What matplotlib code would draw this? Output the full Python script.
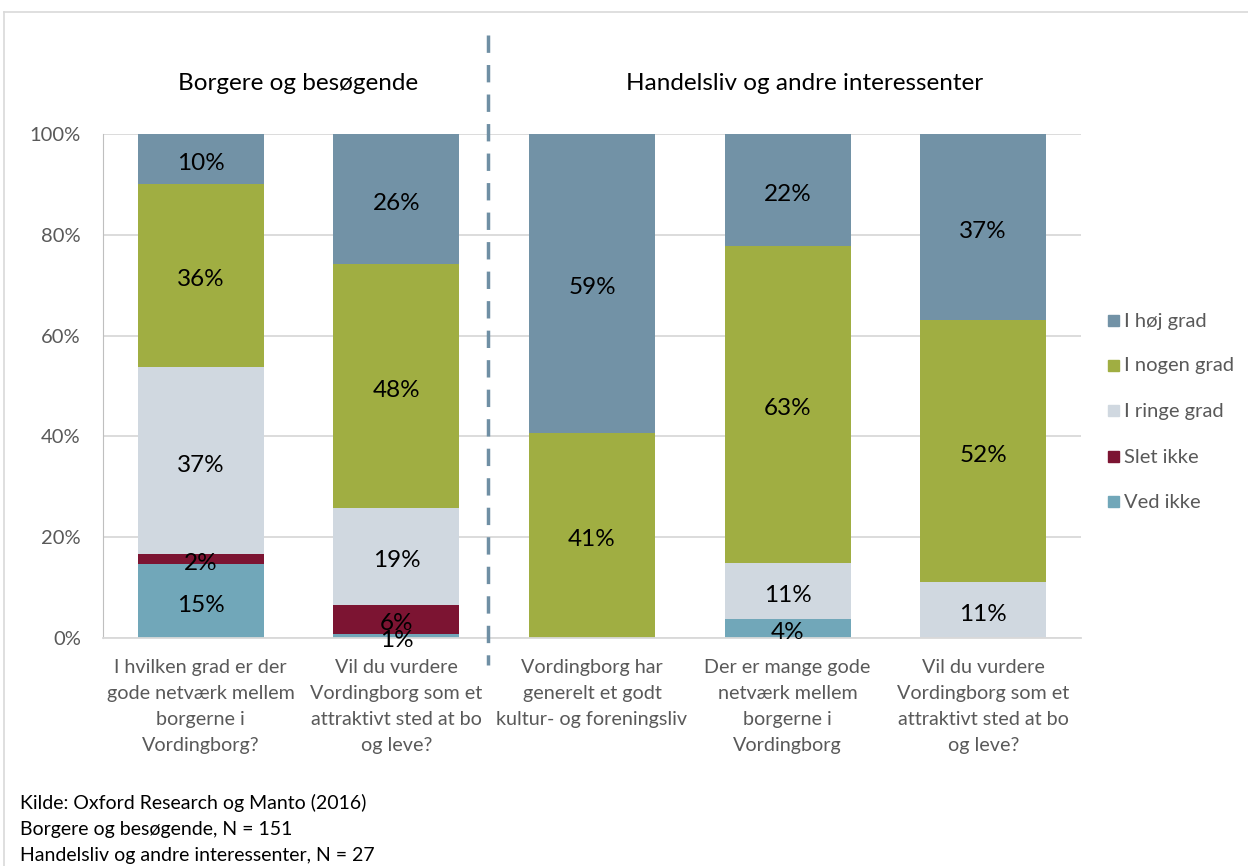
import matplotlib
matplotlib.use("Agg")
import matplotlib.pyplot as plt
from matplotlib.lines import Line2D
from matplotlib.patches import Rectangle
from matplotlib.transforms import offset_copy

plt.rcParams['font.family'] = ['Lato', 'DejaVu Sans']

categories = [
    "I hvilken grad er der\ngode netværk mellem\nborgerne i\nVordingborg?",
    "Vil du vurdere\nVordingborg som et\nattraktivt sted at bo\nog leve?",
    "Vordingborg har\ngenerelt et godt\nkultur- og foreningsliv",
    "Der er mange gode\nnetværk mellem\nborgerne i\nVordingborg",
    "Vil du vurdere\nVordingborg som et\nattraktivt sted at bo\nog leve?",
]
series_names = ["Ved ikke", "Slet ikke", "I ringe grad", "I nogen grad", "I høj grad"]
ved_ikke = [14.6, 0.7, 0.0, 3.7, 0.0]
slet_ikke = [2.0, 5.9, 0.0, 0.0, 0.0]
ringe_grad = [37.1, 19.2, 0.0, 11.1, 11.1]
nogen_grad = [36.4, 48.4, 40.7, 63.0, 51.9]
hoej_grad = [9.9, 25.8, 59.3, 22.2, 37.0]
group_titles = ["Borgere og besøgende", "Handelsliv og andre interessenter"]
footnotes = ["Kilde: Oxford Research og Manto (2016)",
             "Borgere og besøgende, N = 151",
             "Handelsliv og andre interessenter, N = 27"]
yticks = [0, 20, 40, 60, 80, 100]

series = [ved_ikke, slet_ikke, ringe_grad, nogen_grad, hoej_grad]
colors = ["#71A7B9", "#7C1432", "#D0D8E0", "#A0AE42", "#7292A6"]

W, H = 1248, 866
fig = plt.figure(figsize=(W / 100, H / 100), dpi=100)
ax = fig.add_axes([103 / W, 1 - 638 / H, (1081 - 103) / W, (638 - 134) / H])
label_tf = offset_copy(ax.transData, fig=fig, x=0, y=-3, units="points")

x = list(range(len(categories)))
bottom = [0.0] * len(categories)
for vals, col, name in zip(series, colors, series_names):
    ax.bar(x, vals, bottom=bottom, width=0.645, color=col, label=name, zorder=2)
    for i, v in enumerate(vals):
        if v > 0:
            ax.text(i, bottom[i] + v / 2, f"{int(round(v))}%", ha="center", va="center",
                    fontsize=17.5, color="black", zorder=3, transform=label_tf)
    bottom = [b + v for b, v in zip(bottom, vals)]

ax.set_xlim(-0.5, 4.5)
ax.set_ylim(0, 100)
ax.set_yticks(yticks)
ax.set_yticklabels([f"{t}%" for t in yticks], fontsize=14.5, color="#595959")
ax.tick_params(axis="y", length=0, pad=16)
ax.tick_params(axis="x", length=0, pad=15)
ax.set_xticks(x)
ax.set_xticklabels(categories, fontsize=14.2, color="#595959", linespacing=1.65)
ax.yaxis.grid(True, color="#D9D9D9", linewidth=1.3, zorder=0)
ax.set_axisbelow(True)
for s in ["top", "right"]:
    ax.spines[s].set_visible(False)
ax.spines["left"].set_color("#BFBFBF")
ax.spines["bottom"].set_color("#D9D9D9")
ax.spines["bottom"].set_linewidth(1.3)

# separator dashed line
xs = 1.47
ax.add_line(Line2D([xs, xs], [(638 - 35) / 504 * 100, (638 - 665) / 504 * 100],
                   color="#6F8FA4", linewidth=2.5, linestyle=(0, (5, 3.5)),
                   clip_on=False, zorder=4))

# group titles
fig.text(298 / W, 1 - 83 / H, group_titles[0], ha="center", va="center", fontsize=17.5, color="black")
fig.text(805 / W, 1 - 83 / H, group_titles[1], ha="center", va="center", fontsize=17.5, color="black")

# legend (top to bottom)
leg_y = [320, 365, 410, 456, 501]
for yy, name, col in zip(leg_y, series_names[::-1], colors[::-1]):
    fig.patches.append(Rectangle((1108 / W, 1 - (yy + 6) / H), 11 / W, 11 / H,
                                 transform=fig.transFigure, color=col))
    fig.text(1124 / W, 1 - (yy + 1) / H, name, ha="left", va="center", fontsize=14.5, color="#595959")

# footnotes
for i, t in enumerate(footnotes):
    fig.text(20 / W, 1 - (803 + 26.5 * i) / H, t, ha="left", va="center", fontsize=14, color="black")

# outer frame
fig.add_artist(Line2D([4 / W, 4 / W], [0, 1 - 12 / H], transform=fig.transFigure, color="#D9D9D9", linewidth=1.2))
fig.add_artist(Line2D([4 / W, 1], [1 - 12 / H, 1 - 12 / H], transform=fig.transFigure, color="#D9D9D9", linewidth=1.2))

fig.savefig("out.png", dpi=100)
